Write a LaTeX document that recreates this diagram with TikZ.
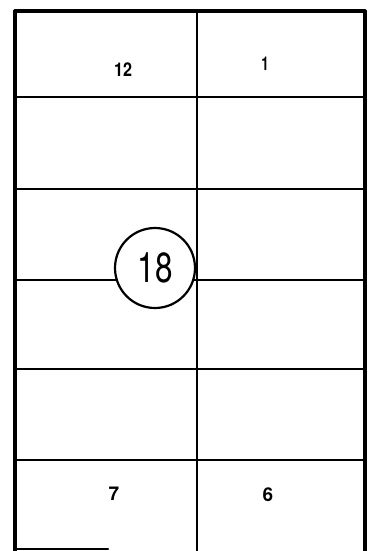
\documentclass[tikz,border=0pt]{standalone}
\usepackage{fontspec}
\setmainfont{TeX Gyre Heros}
\begin{document}
\begin{tikzpicture}[x=1pt,y=-1pt,
  frame/.style={line width=3.2pt,line cap=round,line join=round},
  grid/.style={line width=2.2pt,line cap=round},
  lbl/.style={font=\fontsize{19}{19}\selectfont\bfseries,inner sep=0pt},
  bigc/.style={circle,draw,line width=2.2pt,fill=white,minimum size=80pt,inner sep=0pt,
    font=\fontsize{42}{42}\selectfont}]
\useasboundingbox (0,0) rectangle (379,551);
% frame
\coordinate (bl) at (15,551);
\coordinate (tl) at (15,11);
\coordinate (tr) at (365,11);
\coordinate (br) at (365,551);
\draw[frame] (bl) -- (tl) -- (tr) -- (br);
\coordinate (b1) at (15,549);
\coordinate (b2) at (108,549);
\draw[grid] (b1) -- (b2);
% vertical divider
\coordinate (vt) at (197,11);
\coordinate (vb) at (197,551);
\draw[grid] (vt) -- (vb);
% horizontal lines
\foreach \y/\n in {97/a,189/b,280/c,369/d,460/e}{
  \coordinate (L\n) at (15,\y);
  \coordinate (R\n) at (365,\y);
  \draw[grid] (L\n) -- (R\n);
}
% labels
\node[lbl] (n12) at (123,70) {\scalebox{0.85}[1]{12}};
\node[lbl] (n1) at (265,64) {\scalebox{0.7}[1]{1}};
\node[lbl] (n7) at (114,494) {7};
\node[lbl] (n6) at (268,495) {6};
\node[bigc] (n18) at (155,268) {\scalebox{0.75}[1]{18}};
\end{tikzpicture}
\end{document}
